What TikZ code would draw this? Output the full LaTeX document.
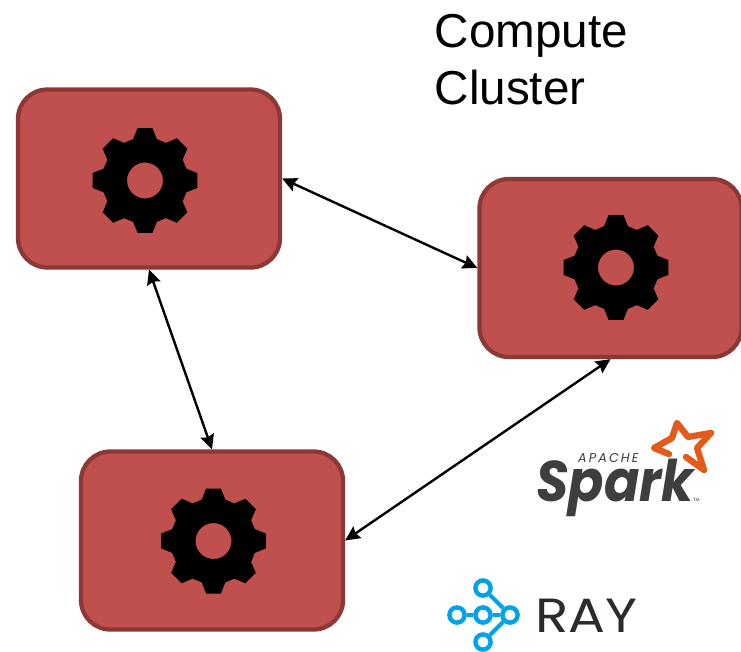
\documentclass[tikz,border=0pt]{standalone}
\usepackage{fontspec}
\setmainfont{Liberation Sans}
\newfontfamily\sparkfont{Poppins}
\newfontfamily\apachefont[LetterSpace=16]{Poppins}
\usetikzlibrary{arrows.meta}

\definecolor{boxred}{HTML}{C0504D}
\definecolor{boxedge}{HTML}{8C3836}
\definecolor{sparkgrey}{HTML}{3E3D40}
\definecolor{sparkstar}{HTML}{E25A1C}
\definecolor{rayblue}{HTML}{00A2E9}
\definecolor{raygrey}{HTML}{2E2A2B}

\tikzset{
    worker/.style={
        draw=boxedge,
        fill=boxred,
        line width=3.2pt,
        rounded corners=22pt,
        minimum width=196.5pt,
        minimum height=133.5pt,
    },
    raydot/.style={
        circle,
        draw=rayblue,
        line width=3.3pt,
        fill=white,
        inner sep=0pt,
        minimum size=11.4pt,
    },
    gear/.pic={
        \fill[black, even odd rule]
            (-16:43)
            \foreach \a in {0, 45, ..., 315} {
                -- (\a-16:43) -- (\a-8:53) -- (\a+8:53) -- (\a+16:43)
            }
            -- cycle
            (0,0) circle[radius=18];
    },
}

\begin{document}
\begin{tikzpicture}[
        x=0.75pt,
        y=-0.75pt,
        > ={Stealth[length=11pt, width=10.5pt, inset=1.5pt]},
        line width=1.8pt,
    ]
    \useasboundingbox (0,0) rectangle (741,651);

    \node[worker] (W1) at (149,178.5) {};
    \node[worker] (W2) at (610.5,268) {};
    \node[worker] (W3) at (212,540.5) {};

    \pic at (145,180.5) {gear};
    \pic at (616,267.5) {gear};
    \pic at (213.5,541) {gear};

    \draw[<->] (W1.east) -- (W2.west);
    \draw[<->] (W1.south) -- (W3.north);
    \draw[<->] (W2.south) -- (W3.east);

    \node[anchor=west, align=left, inner sep=0pt, font=\fontsize{35.7pt}{42.75pt}\selectfont]
        (title) at (433.5,60) {Compute\\Cluster};

    % spark logo
    \draw[sparkstar, line width=4.8pt, line join=round, line cap=round]
        (669,454) -- (654,448) -- (672,438) -- (677,423) -- (688,437)
        -- (711,433) -- (697,448) -- (704,470) -- (686,457);
    \node[anchor=base west, inner sep=0pt, text=sparkgrey,
          font=\sparkfont\bfseries\itshape\fontsize{43pt}{43pt}\selectfont]
        (spark) at (535,501) {\scalebox{0.91}[1]{Spark}};
    \node[anchor=base west, inner sep=0pt, text=sparkgrey,
          font=\apachefont\itshape\fontsize{9.6pt}{10pt}\selectfont]
        (apache) at (577,462) {APACHE};
    \node[anchor=base west, inner sep=0pt, text=sparkgrey,
          font=\sparkfont\fontsize{3.5pt}{4pt}\selectfont]
        (tm) at (692,501) {TM};

    % ray logo
    \node[raydot] (R1) at (483,588) {};
    \node[raydot] (R2) at (457,615) {};
    \node[raydot] (R3) at (483,615) {};
    \node[raydot] (R4) at (510,615) {};
    \node[raydot] (R5) at (483,642) {};
    \draw[rayblue, line width=3pt] (R2) -- (R3);
    \draw[rayblue, line width=3pt] (R3) -- (R4);
    \draw[rayblue, line width=3pt] (R1) -- (R4);
    \draw[rayblue, line width=3pt] (R5) -- (R4);
    \node[anchor=base west, inner sep=0pt, text=raygrey,
          font=\sparkfont\fontsize{36pt}{36pt}\selectfont]
        (ray) at (534,632) {\scalebox{1.14}[1]{RAY}};
\end{tikzpicture}
\end{document}
